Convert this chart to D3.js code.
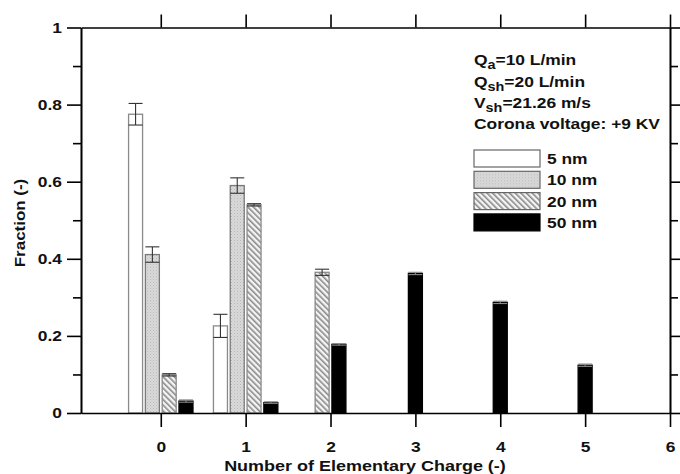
<!DOCTYPE html>
<html>
<head>
<meta charset="utf-8">
<script src="https://cdn.jsdelivr.net/npm/d3@7"></script>
<style>
  html, body { margin: 0; padding: 0; background: #fff; }
  svg { display: block; font-family: "Liberation Sans", Arial, sans-serif; font-weight: bold; }
</style>
</head>
<body>
<svg id="chart" width="680" height="474"></svg>
<script>
// Charge distribution of particles after the corona charger
const charges = [0, 1, 2, 3, 4, 5];
const sizes = ["5 nm", "10 nm", "20 nm", "50 nm"];
const frac5  = [0.775, 0.226, null, null, null, null];
const err5   = [0.028, 0.030, null, null, null, null];
const frac10 = [0.411, 0.590, null, null, null, null];
const err10  = [0.020, 0.020, null, null, null, null];
const frac20 = [0.099, 0.540, 0.365, null, null, null];
const err20  = [0.003, 0.003, 0.008, null, null, null];
const frac50 = [0.031, 0.027, 0.178, 0.362, 0.287, 0.124];
const err50  = [0.003, 0.002, 0.002, 0.003, 0.003, 0.003];
const xTicks = [0, 1, 2, 3, 4, 5, 6];
const yTicks = [0, 0.2, 0.4, 0.6, 0.8, 1];
const yMinorTicks = [0.1, 0.3, 0.5, 0.7, 0.9];
const notes = [
  [["Q", ""], ["a", "sub"], ["=10 L/min", ""]],
  [["Q", ""], ["sh", "sub"], ["=20 L/min", ""]],
  [["V", ""], ["sh", "sub"], ["=21.26 m/s", ""]],
  [["Corona voltage: +9 KV", ""]]
];

const fracs = [frac5, frac10, frac20, frac50];
const errs = [err5, err10, err20, err50];

const svg = d3.select("#chart");
const plotLeft = 81, plotRight = 670, plotTop = 27.5, plotBottom = 413;
const stretch = 1.2; // wide lettering

// Widen a text element around its anchor point
function widen(sel, sx = stretch) {
  sel.each(function () {
    const t = d3.select(this);
    const ax = +t.attr("x") || 0;
    t.attr("transform", `translate(${ax},0) scale(${sx},1) translate(${-ax},0)`);
  });
}

const x = d3.scaleLinear().domain([-0.94, 6]).range([plotLeft, plotRight]);
const y = d3.scaleLinear().domain([0, 1]).range([plotBottom, plotTop]);

// Fill patterns
const defs = svg.append("defs");
const dots = defs.append("pattern").attr("id", "dots")
  .attr("patternUnits", "userSpaceOnUse").attr("width", 3).attr("height", 3);
dots.append("rect").attr("width", 3).attr("height", 3).attr("fill", "#dadada");
dots.append("rect").attr("x", 0).attr("y", 0).attr("width", 1).attr("height", 1).attr("fill", "#b8b8b8");
dots.append("rect").attr("x", 1.5).attr("y", 1.5).attr("width", 1).attr("height", 1).attr("fill", "#c4c4c4");

const hatch = defs.append("pattern").attr("id", "hatch")
  .attr("patternUnits", "userSpaceOnUse").attr("width", 4).attr("height", 4)
  .attr("patternTransform", "rotate(-45)");
hatch.append("rect").attr("width", 4).attr("height", 4).attr("fill", "#f4f4f4");
hatch.append("rect").attr("x", 0).attr("y", 0).attr("width", 1.6).attr("height", 4).attr("fill", "#8a8a8a");

const fills = ["#ffffff", "url(#dots)", "url(#hatch)", "#000000"];
const strokes = ["#8a8a8a", "#7a7a7a", "#8a8a8a", "#000000"];

// Bars: within each charge, the sizes present share the slot centred on the tick
const step = 0.198; // slot width per bar, in charge units
const barData = [];
charges.forEach((c, ci) => {
  const present = sizes.map((s, si) => si).filter(si => fracs[si][ci] != null);
  const n = present.length;
  const inner = d3.scaleBand()
    .domain(present)
    .range([x(c - n * step / 2), x(c + n * step / 2)])
    .paddingInner(0.167).paddingOuter(0.0835);
  present.forEach(si => {
    barData.push({ si, c, v: fracs[si][ci], e: errs[si][ci], x0: inner(si), w: inner.bandwidth() });
  });
});

const bars = svg.append("g");
bars.selectAll("rect").data(barData).join("rect")
  .attr("x", d => d.x0)
  .attr("y", d => y(d.v))
  .attr("width", d => d.w)
  .attr("height", d => y(0) - y(d.v))
  .attr("fill", d => fills[d.si])
  .attr("stroke", d => strokes[d.si])
  .attr("stroke-width", 1.3);

// Error bars
const eb = svg.append("g").attr("stroke-width", 1.1).attr("fill", "none");
barData.filter(d => d.e != null).forEach(d => {
  const cx = d.x0 + d.w / 2;
  const g = eb.append("g");
  const col = d.si === 3 ? "#888" : "#333";
  g.append("line").attr("x1", cx).attr("x2", cx).attr("y1", y(d.v + d.e)).attr("y2", y(d.v - d.e)).attr("stroke", col);
  g.append("line").attr("x1", d.x0).attr("x2", d.x0 + d.w).attr("y1", y(d.v + d.e)).attr("y2", y(d.v + d.e)).attr("stroke", col);
  g.append("line").attr("x1", d.x0).attr("x2", d.x0 + d.w).attr("y1", y(d.v - d.e)).attr("y2", y(d.v - d.e)).attr("stroke", col);
});

// Axes
function styleAxis(g) {
  g.select(".domain").attr("stroke", "#000").attr("stroke-width", 1.6);
  g.selectAll(".tick line").attr("stroke", "#000").attr("stroke-width", 1.6);
  g.selectAll(".tick text").attr("fill", "#111").style("font-size", "14.5px").style("font-weight", "bold")
    .style("font-family", "'Liberation Sans', Arial, sans-serif")
    .call(widen);
}

svg.append("g").attr("transform", `translate(0,${plotBottom})`)
  .call(d3.axisBottom(x).tickValues(xTicks).tickFormat(d3.format("d")).tickSize(14).tickSizeOuter(0).tickPadding(15))
  .call(styleAxis);
svg.append("g").attr("transform", `translate(0,${plotTop})`)
  .call(d3.axisTop(x).tickValues(xTicks).tickFormat("").tickSize(13).tickSizeOuter(0))
  .call(styleAxis);
svg.append("g").attr("transform", `translate(${plotLeft},0)`)
  .call(d3.axisLeft(y).tickValues(yTicks).tickFormat(d => d === 0 || d === 1 ? d3.format("d")(d) : d3.format(".1f")(d)).tickSize(14).tickSizeOuter(0).tickPadding(5))
  .call(styleAxis);
svg.append("g").attr("transform", `translate(${plotLeft},0)`)
  .call(d3.axisLeft(y).tickValues(yMinorTicks).tickFormat("").tickSize(8).tickSizeOuter(0))
  .call(styleAxis);
svg.append("g").attr("transform", `translate(${plotRight},0)`)
  .call(d3.axisRight(y).tickValues(yTicks).tickFormat("").tickSize(14).tickSizeOuter(0))
  .call(styleAxis);
svg.append("g").attr("transform", `translate(${plotRight},0)`)
  .call(d3.axisRight(y).tickValues(yMinorTicks).tickFormat("").tickSize(8).tickSizeOuter(0))
  .call(styleAxis);

// Axis titles
svg.append("text").attr("x", 365).attr("y", 471).attr("text-anchor", "middle")
  .attr("fill", "#111").style("font-size", "15px").text("Number of Elementary Charge (-)")
  .call(widen);
svg.append("text").attr("transform", `translate(25,223) rotate(-90) scale(1.13,1)`).attr("text-anchor", "middle")
  .attr("fill", "#111").style("font-size", "15px").text("Fraction (-)");

// Operating conditions
const noteY = [65.5, 87, 108.5, 129.5];
notes.forEach((parts, i) => {
  const t = svg.append("text").attr("x", 474).attr("y", noteY[i]).style("font-size", "14.5px").attr("fill", "#111");
  parts.forEach(([s, kind], j) => {
    const ts = t.append("tspan").text(s);
    if (kind === "sub") ts.attr("dy", 4).style("font-size", "12px");
    else if (j > 0 && parts[j - 1][1] === "sub") ts.attr("dy", -4);
  });
  t.call(widen);
});

// Legend
const legend = svg.append("g").attr("transform", "translate(474,150)");
sizes.forEach((s, i) => {
  const g = legend.append("g").attr("transform", `translate(0,${i * 21.3})`);
  g.append("rect").attr("width", 66).attr("height", 17)
    .attr("fill", fills[i]).attr("stroke", i === 3 ? "#000" : "#666").attr("stroke-width", 1.2);
  g.append("text").attr("x", 73).attr("y", 14).style("font-size", "14.5px").attr("fill", "#111").text(s)
    .call(widen);
});
</script>
</body>
</html>
